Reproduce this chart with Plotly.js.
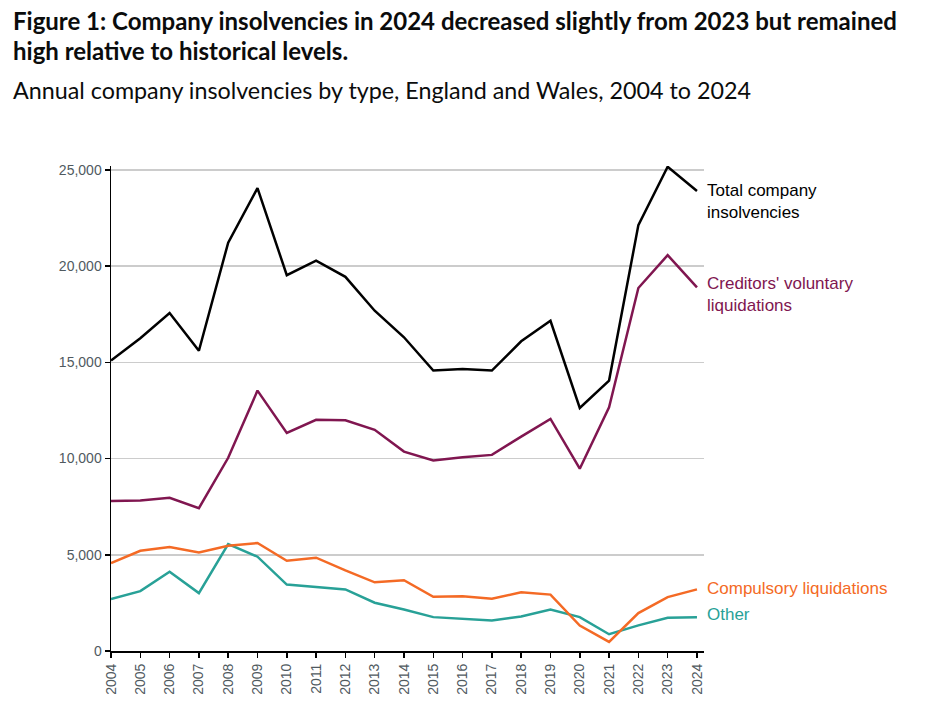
<!DOCTYPE html>
<html>
<head>
<meta charset="utf-8">
<script src="https://cdn.plot.ly/plotly-3.0.1.min.js"></script>
<style>html,body{margin:0;padding:0;background:#fff;}#chart{width:943px;height:707px;}</style>
</head>
<body>
<div id="chart"></div>
<script>
const years = [2004,2005,2006,2007,2008,2009,2010,2011,2012,2013,2014,2015,2016,2017,2018,2019,2020,2021,2022,2023,2024];
const yearLabels = years.map(String);
const totalInsolvencies = [15090,16250,17560,15600,21220,24050,19530,20280,19440,17680,16300,14570,14650,14570,16090,17160,12630,14050,22130,25160,23900];
const creditorsVoluntary = [7790,7820,7960,7420,10040,13530,11330,12010,11990,11490,10360,9900,10070,10190,11140,12060,9470,12660,18860,20570,18890];
const compulsory = [4570,5210,5400,5120,5470,5610,4690,4850,4190,3570,3680,2820,2850,2720,3050,2930,1320,470,1970,2800,3200];
const other = [2700,3110,4120,3010,5550,4900,3450,3340,3200,2510,2160,1760,1680,1590,1790,2150,1760,870,1330,1730,1760];
const yTicks = [0,5000,10000,15000,20000,25000];
const yTickLabels = ['0','5,000','10,000','15,000','20,000','25,000'];

const colTotal = '#000000', colCVL = '#801650', colComp = '#F46A25', colOther = '#28A197';

const mk = (y, c, name) => ({x: years, y: y, type: 'scatter', mode: 'lines', name: name,
  line: {color: c, width: 2.5}, hoverinfo: 'x+y'});

const data = [
  mk(other, colOther, 'Other'),
  mk(compulsory, colComp, 'Compulsory liquidations'),
  mk(creditorsVoluntary, colCVL, "Creditors' voluntary liquidations"),
  mk(totalInsolvencies, colTotal, 'Total company insolvencies')
];

const last = a => a[a.length - 1];
const lab = (text, y, c, ys) => ({xref: 'x', yref: 'y', x: 2024, y: y, xshift: 8, yshift: ys,
  xanchor: 'left', yanchor: 'middle', align: 'left', showarrow: false, text: text,
  font: {family: 'Liberation Sans, Arial, sans-serif', size: 17, color: c}});

const titleX = (11 - 111) / 593;
const annotations = [
  lab('Total company<br>insolvencies', last(totalInsolvencies), colTotal, -10),
  lab("Creditors' voluntary<br>liquidations", last(creditorsVoluntary), colCVL, -7),
  lab('Compulsory liquidations', last(compulsory), colComp, 1),
  lab('Other', last(other), colOther, 3),
  {xref: 'paper', yref: 'paper', x: titleX, y: (651-21)/485, xanchor: 'left', yanchor: 'middle', showarrow: false,
   text: '<b>Figure 1: Company insolvencies in 2024 decreased slightly from 2023 but remained</b>',
   font: {family: 'Lato, sans-serif', size: 24, color: '#0b0c0c'}},
  {xref: 'paper', yref: 'paper', x: titleX, y: (651-51)/485, xanchor: 'left', yanchor: 'middle', showarrow: false,
   text: '<b>high relative to historical levels.</b>',
   font: {family: 'Lato, sans-serif', size: 24, color: '#0b0c0c'}},
  {xref: 'paper', yref: 'paper', x: titleX, y: (651-90)/485, xanchor: 'left', yanchor: 'middle', showarrow: false,
   text: 'Annual company insolvencies by type, England and Wales, 2004 to 2024',
   font: {family: 'Lato, sans-serif', size: 23.3, color: '#0b0c0c'}}
];

const layout = {
  width: 943, height: 707,
  margin: {l: 111, r: 239, t: 166, b: 56, pad: 0},
  paper_bgcolor: '#ffffff', plot_bgcolor: '#ffffff',
  showlegend: false,
  xaxis: {
    range: [2004, 2024.24], tickvals: years, ticktext: yearLabels, tickangle: -90,
    showgrid: false, zeroline: false, showline: true, linecolor: '#000', linewidth: 2,
    ticks: 'outside', ticklen: 5, tickwidth: 1.5, tickcolor: '#000',
    tickfont: {family: 'Liberation Sans, Arial, sans-serif', size: 14, color: '#505a5f'},
    fixedrange: true
  },
  yaxis: {
    range: [0, 25200], tickvals: yTicks, ticktext: yTickLabels,
    showgrid: true, gridcolor: '#cccccc', gridwidth: 1.5, zeroline: false,
    showline: true, linecolor: '#000', linewidth: 1.5,
    ticks: 'outside', ticklen: 5, tickwidth: 1.5, tickcolor: '#000',
    tickfont: {family: 'Liberation Sans, Arial, sans-serif', size: 14, color: '#505a5f'},
    fixedrange: true
  },
  annotations: annotations
};

Plotly.newPlot('chart', data, layout, {displayModeBar: false, staticPlot: true});
</script>
</body>
</html>
